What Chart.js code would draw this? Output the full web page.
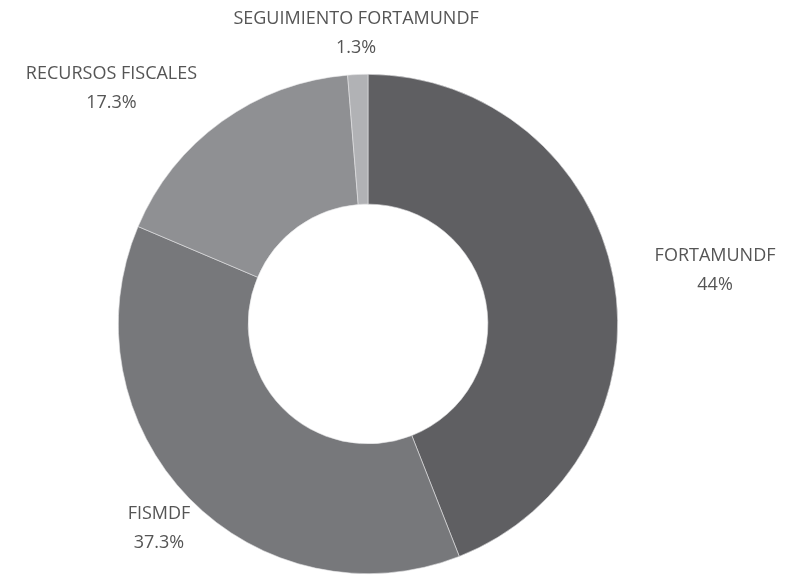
<!DOCTYPE html>
<html>
<head>
<meta charset="utf-8">
<script src="https://cdn.jsdelivr.net/npm/chart.js@4/dist/chart.umd.min.js"></script>
<style>
  html, body { margin: 0; padding: 0; background: #fff; }
  #wrap { width: 787px; height: 575px; }
</style>
</head>
<body>
<div id="wrap"><canvas id="pie"></canvas></div>
<script>
// Data
const labels = ["FORTAMUNDF", "FISMDF", "RECURSOS FISCALES", "SEGUIMIENTO FORTAMUNDF"];
const values = [44, 37.3, 17.3, 1.3];
const colors = ["#5f5f62", "#77787b", "#8f9093", "#b1b2b5"];

// label alignment per slice (outside labels)
const labelAlign = ["left", "center", "right", "center"];

const outsideLabels = {
  id: "outsideLabels",
  afterDraw(chart) {
    const ctx = chart.ctx;
    const meta = chart.getDatasetMeta(0);
    ctx.save();
    ctx.font = "18px 'Open Sans'";
    ctx.fillStyle = "#555555";
    ctx.textBaseline = "middle";
    meta.data.forEach((arc, i) => {
      const p = arc.getProps(["x", "y", "startAngle", "endAngle", "outerRadius"], true);
      const mid = (p.startAngle + p.endAngle) / 2;
      const r = p.outerRadius + 42;
      const x = p.x + Math.cos(mid) * r;
      const y = p.y + Math.sin(mid) * r;
      ctx.textAlign = labelAlign[i];
      ctx.fillText(labels[i], x, y - 14);
      // percentage centered under the name
      const w = ctx.measureText(labels[i]).width;
      let cx = x;
      if (labelAlign[i] === "left") cx = x + w / 2;
      if (labelAlign[i] === "right") cx = x - w / 2;
      ctx.textAlign = "center";
      ctx.fillText(values[i] + "%", cx, y + 15);
    });
    ctx.restore();
  }
};

new Chart(document.getElementById("pie").getContext("2d"), {
  type: "doughnut",
  data: {
    labels: labels,
    datasets: [{
      data: values,
      backgroundColor: colors,
      borderColor: "#e4e4e6",
      borderWidth: 0.6
    }]
  },
  options: {
    responsive: true,
    maintainAspectRatio: false,
    animation: false,
    cutout: "48%",
    layout: { padding: { left: 118, right: 169, top: 74, bottom: 1 } },
    plugins: {
      legend: { display: false },
      tooltip: { enabled: false }
    }
  },
  plugins: [outsideLabels]
});
</script>
</body>
</html>
